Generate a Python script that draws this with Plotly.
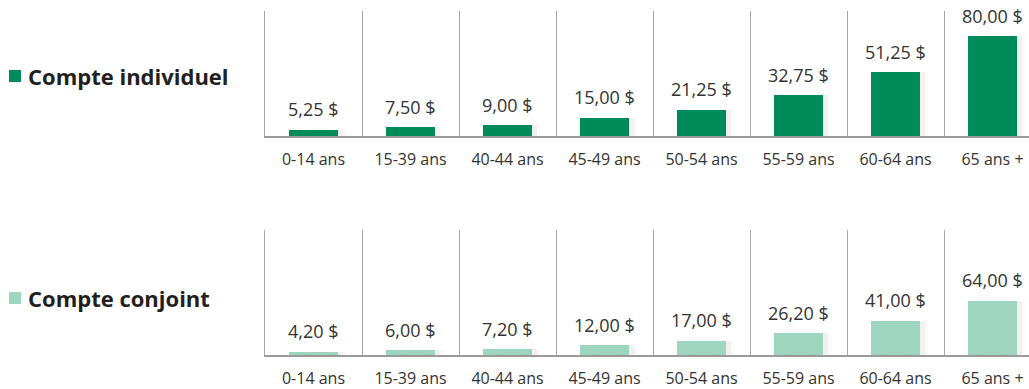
import plotly.graph_objects as go
from plotly.subplots import make_subplots

# Tranches d'âge et cotisations par type de compte
categories = ["0-14 ans", "15-39 ans", "40-44 ans", "45-49 ans",
              "50-54 ans", "55-59 ans", "60-64 ans", "65 ans +"]
individuel = [5.25, 7.50, 9.00, 15.00, 21.25, 32.75, 51.25, 80.00]
conjoint = [4.20, 6.00, 7.20, 12.00, 17.00, 26.20, 41.00, 64.00]

series_names = ["Compte individuel", "Compte conjoint"]
series_colors = ["#008c5a", "#9dd5be"]

W, H = 1029, 389
FONT = "Open Sans"
TEXT = "#333333"
GRID = "#a8a8a8"


def fmt(v):
    return f"{v:,.2f}".replace(".", ",") + "\u00a0$"


def py(px):
    """pixel row (from top) -> paper fraction"""
    return (H - px) / H


fig = make_subplots(rows=2, cols=1)

panels = [
    dict(values=individuel, row=1, ytop=10.5, ybot=136, ymax=100, legend_y=76),
    dict(values=conjoint, row=2, ytop=229.5, ybot=355, ymax=147, legend_y=298),
]

for i, p in enumerate(panels):
    vals = p["values"]
    # soft drop shadow behind the bars
    for w, a in [(0.58, 0.02), (0.55, 0.035)]:
        fig.add_trace(go.Bar(x=categories, y=vals, width=w, offset=-0.25 + 0.005,
                             marker=dict(color=f"rgba(0,0,0,{a})", line=dict(width=0)),
                             hoverinfo="skip", showlegend=False),
                      row=p["row"], col=1)
    fig.add_trace(go.Bar(x=categories, y=vals, width=0.5, offset=-0.25,
                         name=series_names[i],
                         marker=dict(color=series_colors[i], line=dict(width=0)),
                         showlegend=False),
                  row=p["row"], col=1)

    xa = "xaxis" if i == 0 else "xaxis2"
    ya = "yaxis" if i == 0 else "yaxis2"
    xref = "x" if i == 0 else "x2"
    yref = "y" if i == 0 else "y2"

    fig.layout[xa].update(
        domain=[265 / W, 1.0], type="category", range=[-0.5, (W - 265) / 97 - 0.5],
        showgrid=True, gridcolor=GRID, gridwidth=1, tickson="boundaries",
        showline=True, linecolor="#9a9a9a", linewidth=1.5,
        ticks="", ticklabelstandoff=8,
        tickfont=dict(family=FONT, size=16, color=TEXT), fixedrange=True,
    )
    fig.layout[ya].update(
        domain=[py(p["ybot"]), py(p["ytop"])], range=[0, p["ymax"]],
        showgrid=False, zeroline=False, showticklabels=False,
        showline=True, linecolor=GRID, linewidth=1, fixedrange=True,
    )

    for c, v in zip(categories, vals):
        fig.add_annotation(x=c, y=v, xref=xref, yref=yref, text=fmt(v),
                           showarrow=False, yanchor="bottom", yshift=6,
                           font=dict(family=FONT, size=18, color=TEXT))

    # series key
    ly = p["legend_y"]
    fig.add_shape(type="rect", xref="paper", yref="paper",
                  x0=9 / W, x1=21 / W, y0=py(ly + 6), y1=py(ly - 6),
                  fillcolor=series_colors[i], line=dict(width=0))
    fig.add_annotation(x=26 / W, y=py(ly), xref="paper", yref="paper",
                       text=f"<b>{series_names[i]}</b>", showarrow=False,
                       xanchor="left", yanchor="middle",
                       font=dict(family=FONT, size=22, color="#231f20"))

fig.update_layout(
    width=W, height=H, margin=dict(l=0, r=0, t=0, b=0),
    paper_bgcolor="white", plot_bgcolor="white",
    barmode="overlay", bargap=0, showlegend=False,
)

fig.write_html("out.html", config={"displayModeBar": False})
